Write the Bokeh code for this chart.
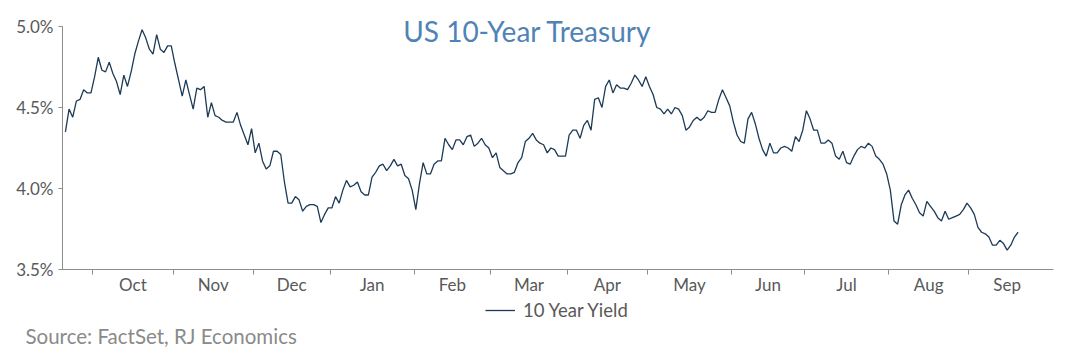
import pandas as pd
from bokeh.plotting import figure
from bokeh.models import Range1d, FixedTicker, Label, Legend, LegendItem
from bokeh.embed import file_html
from bokeh.resources import INLINE

# ---------------- data ----------------
start_date = "2023-09-20"
end_date = "2024-09-19"

yield_2023_09 = [4.35, 4.49, 4.44, 4.54, 4.55, 4.61, 4.59, 4.59]
yield_2023_10 = [4.69, 4.81, 4.73, 4.72, 4.78, 4.71, 4.66, 4.58, 4.70, 4.63, 4.72,
                 4.83, 4.91, 4.98, 4.93, 4.86, 4.83, 4.95, 4.86, 4.84, 4.88, 4.88]
yield_2023_11 = [4.77, 4.67, 4.57, 4.67, 4.58, 4.49, 4.62, 4.61, 4.63, 4.44, 4.53,
                 4.45, 4.44, 4.42, 4.41, 4.41, 4.41, 4.47, 4.39, 4.33, 4.27, 4.37]
yield_2023_12 = [4.22, 4.28, 4.17, 4.12, 4.14, 4.23, 4.23, 4.21, 4.04, 3.91, 3.91,
                 3.95, 3.93, 3.86, 3.89, 3.90, 3.90, 3.89, 3.79, 3.84, 3.88]
yield_2024_01 = [3.88, 3.95, 3.91, 3.99, 4.05, 4.01, 4.02, 4.04, 3.98, 3.96, 3.96,
                 4.07, 4.10, 4.14, 4.15, 4.11, 4.14, 4.18, 4.14, 4.15, 4.08, 4.06, 3.99]
yield_2024_02 = [3.87, 4.03, 4.16, 4.09, 4.09, 4.15, 4.17, 4.17, 4.31, 4.27, 4.24,
                 4.30, 4.30, 4.27, 4.32, 4.33, 4.26, 4.28, 4.31, 4.27, 4.25]
yield_2024_03 = [4.19, 4.22, 4.13, 4.11, 4.09, 4.09, 4.10, 4.16, 4.19, 4.29, 4.31,
                 4.34, 4.30, 4.28, 4.27, 4.22, 4.25, 4.24, 4.20, 4.20, 4.20]
yield_2024_04 = [4.33, 4.36, 4.36, 4.31, 4.39, 4.42, 4.36, 4.55, 4.56, 4.50, 4.63,
                 4.67, 4.59, 4.64, 4.62, 4.62, 4.61, 4.65, 4.70, 4.67, 4.63, 4.69]
yield_2024_05 = [4.63, 4.58, 4.50, 4.49, 4.46, 4.49, 4.46, 4.50, 4.49, 4.45, 4.36,
                 4.38, 4.42, 4.44, 4.42, 4.44, 4.48, 4.47, 4.47, 4.55, 4.61, 4.56, 4.51]
yield_2024_06 = [4.41, 4.33, 4.29, 4.28, 4.43, 4.47, 4.40, 4.31, 4.24, 4.20, 4.28,
                 4.22, 4.22, 4.25, 4.26, 4.25, 4.23, 4.32, 4.29, 4.36]
yield_2024_07 = [4.48, 4.43, 4.36, 4.36, 4.28, 4.28, 4.30, 4.28, 4.20, 4.18, 4.23,
                 4.16, 4.15, 4.20, 4.24, 4.26, 4.25, 4.28, 4.26, 4.20, 4.18, 4.15, 4.09]
yield_2024_08 = [3.99, 3.80, 3.78, 3.90, 3.96, 3.99, 3.94, 3.90, 3.85, 3.83, 3.92,
                 3.89, 3.86, 3.82, 3.80, 3.86, 3.81, 3.82, 3.83, 3.84, 3.87, 3.91]
yield_2024_09 = [3.88, 3.84, 3.76, 3.73, 3.72, 3.70, 3.65, 3.65, 3.68, 3.66, 3.62,
                 3.65, 3.70, 3.73]

yields = (yield_2023_09 + yield_2023_10 + yield_2023_11 + yield_2023_12 +
          yield_2024_01 + yield_2024_02 + yield_2024_03 + yield_2024_04 +
          yield_2024_05 + yield_2024_06 + yield_2024_07 + yield_2024_08 +
          yield_2024_09)

month_labels = ["Oct", "Nov", "Dec", "Jan", "Feb", "Mar", "Apr", "May",
                "Jun", "Jul", "Aug", "Sep"]
month_starts = ["2023-10", "2023-11", "2023-12", "2024-01", "2024-02", "2024-03",
                "2024-04", "2024-05", "2024-06", "2024-07", "2024-08", "2024-09"]
y_ticks = [3.5, 4.0, 4.5, 5.0]
y_tick_labels = ["3.5%", "4.0%", "4.5%", "5.0%"]

title_text = "US 10-Year Treasury"
series_name = "10 Year Yield"
source_text = "Source: FactSet, RJ Economics"

# ---------------- derived ----------------
dates = pd.bdate_range(start_date, end_date)
n = min(len(dates), len(yields))
xs = list(range(n))

boundaries = []
mids = []
for ms in month_starts:
    mstart = pd.Period(ms, "M").start_time
    mend = pd.Period(ms, "M").end_time
    first = int((dates < mstart).sum())
    full_days = len(pd.bdate_range(mstart, mend.normalize()))
    boundaries.append(first - 0.5)
    mids.append(first - 0.5 + full_days / 2.0)

FONT = "Lato"
GRAY = "#595959"
AXIS = "#8c8c8c"
LINE = "#1d3a56"

# Whole canvas is the frame; axes are pinned at fixed data locations.
W, H = 1084, 356
AX_L, AX_R, AX_T, AX_B = 62, 1053, 26, 269          # plot-area pixels
X0, X1 = -0.8, 270.7                                 # index span of the axis
Y0, Y1 = y_ticks[0], y_ticks[-1]
ppx = (AX_R - AX_L) / (X1 - X0)
ppy = (AX_B - AX_T) / (Y1 - Y0)
x_range = Range1d(X0 - AX_L / ppx, X1 + (W - AX_R) / ppx)
y_range = Range1d(Y0 - (H - AX_B) / ppy, Y1 + AX_T / ppy)

p = figure(width=W, height=H, output_backend="svg", toolbar_location=None,
           x_range=x_range, y_range=y_range,
           min_border_left=0, min_border_right=0, min_border_top=0,
           min_border_bottom=0)
p.outline_line_color = None
p.xgrid.visible = False
p.ygrid.visible = False
p.background_fill_color = "white"
p.border_fill_color = "white"

r = p.line(xs, yields[:n], line_color=LINE, line_width=1.3)

# y axis
ya = p.yaxis[0]
ya.fixed_location = X0
ya.bounds = (Y0, Y1)
ya.ticker = FixedTicker(ticks=y_ticks)
ya.major_label_overrides = {t: l for t, l in zip(y_ticks, y_tick_labels)}
ya.major_tick_out = 4
ya.major_tick_in = 0
ya.minor_tick_out = 0
ya.minor_tick_in = 0
ya.axis_line_color = AXIS
ya.major_tick_line_color = AXIS
ya.major_label_text_font = FONT
ya.major_label_text_font_size = "17px"
ya.major_label_text_color = GRAY
ya.major_label_standoff = 5

# x axis
xa = p.xaxis[0]
xa.fixed_location = Y0
xa.bounds = (X0, X1)
xa.ticker = FixedTicker(ticks=mids, minor_ticks=boundaries)
xa.major_label_overrides = {m: l for m, l in zip(mids, month_labels)}
xa.major_tick_out = 0
xa.major_tick_in = 0
xa.minor_tick_out = 5
xa.minor_tick_in = 0
xa.minor_tick_line_color = AXIS
xa.axis_line_color = AXIS
xa.major_label_text_font = FONT
xa.major_label_text_font_size = "17px"
xa.major_label_text_color = GRAY
xa.major_label_standoff = -1

# texts (screen units: frame-relative, y measured up from the bottom)
p.add_layout(Label(x=527, y=H - 30, x_units="screen", y_units="screen",
                   text=title_text, text_align="center", text_baseline="middle",
                   text_font=FONT, text_font_size="28px", text_color="#4f83b6"))

p.add_layout(Label(x=25, y=H - 335, x_units="screen", y_units="screen",
                   text=source_text, text_align="left", text_baseline="middle",
                   text_font=FONT, text_font_size="20.5px", text_color="#8a8a8a"))

legend = Legend(items=[LegendItem(label=series_name, renderers=[r])],
                location=(485, H - 311 - 10), orientation="horizontal",
                border_line_alpha=0, background_fill_alpha=0,
                padding=0, margin=0, glyph_width=30, glyph_height=20,
                label_standoff=8, label_text_font=FONT,
                label_text_font_size="18.5px", label_text_color=GRAY)
p.add_layout(legend, "center")

open("out.html", "w").write(file_html(p, INLINE))
